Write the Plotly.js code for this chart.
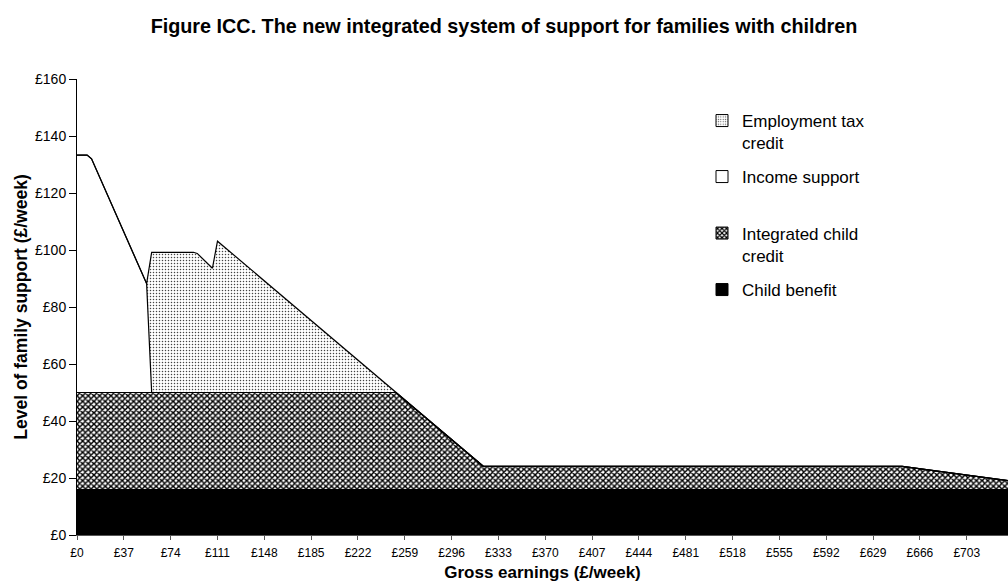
<!DOCTYPE html>
<html>
<head>
<meta charset="utf-8">
<script src="https://cdn.plot.ly/plotly-3.0.1.min.js"></script>
<style>html,body{margin:0;padding:0;background:#fff;}#chart{width:1008px;height:586px;}</style>
</head>
<body>
<div id="chart"></div>
<script>
// Gross earnings (£/week) breakpoints
const earnings = [0, 8, 11.5, 55, 59, 92, 95, 107, 111, 252, 321, 652, 740];
// Stacked components (£/week)
const childBenefit = [15.9, 15.9, 15.9, 15.9, 15.9, 15.9, 15.9, 15.9, 15.9, 15.9, 15.9, 15.9, 15.9];
const integratedChildCredit = [34.1, 34.1, 34.1, 34.1, 34.1, 34.1, 34.1, 34.1, 34.1, 34.1, 8.2, 8.2, 2.9];
const incomeSupport = [83.3, 83.3, 82.0, 38.2, 0, 0, 0, 0, 0, 0, 0, 0, 0];
const employmentTaxCredit = [0, 0, 0, 0, 49.2, 49.2, 48.8, 43.6, 53.1, 0, 0, 0, 0];

const xTickVals = [0, 37, 74, 111, 148, 185, 222, 259, 296, 333, 370, 407, 444, 481, 518, 555, 592, 629, 666, 703];
const xTickText = ["£0", "£37", "£74", "£111", "£148", "£185", "£222", "£259", "£296", "£333", "£370", "£407", "£444", "£481", "£518", "£555", "£592", "£629", "£666", "£703"];
const yTickVals = [0, 20, 40, 60, 80, 100, 120, 140, 160];
const yTickText = ["£0", "£20", "£40", "£60", "£80", "£100", "£120", "£140", "£160"];

const seriesNames = ["Child benefit", "Integrated child<br>credit", "Income support", "Employment tax<br>credit"];

const FONT = "Liberation Sans, Arial, sans-serif";
const W = 1008, H = 586;
const PLOT_TOP = 79, PLOT_BOTTOM = 535, PLOT_LEFT = 77, PLOT_RIGHT = 1008;

const patterns = [
  {shape: "", fgcolor: "#000000", bgcolor: "#000000"},
  {shape: "x", size: 4, solidity: 0.6, fgcolor: "#000000", bgcolor: "#ffffff"},
  {shape: "", fgcolor: "#ffffff", bgcolor: "#ffffff"},
  {shape: ".", size: 3, solidity: 0.2, fgcolor: "#444444", bgcolor: "#ffffff"}
];
const fills = ["#000000", "#ffffff", "#ffffff", "#ffffff"];
const values = [childBenefit, integratedChildCredit, incomeSupport, employmentTaxCredit];

const traces = [];
values.forEach((v, i) => {
  const t = {
    type: "scatter", mode: "lines", x: earnings, y: v,
    stackgroup: "one", fill: i === 0 ? "tozeroy" : "tonexty",
    fillcolor: fills[i],
    line: {color: "#000000", width: 1.2, shape: "linear"},
    showlegend: false, hoverinfo: "skip"
  };
  if (patterns[i].shape) t.fillpattern = patterns[i];
  traces.push(t);
});

// legend entries (one legend per entry so positions follow the reference)
const legendIds = ["legend4", "legend3", "legend2", "legend"];
values.forEach((v, i) => {
  traces.push({
    type: "bar", x: [null], y: [null], name: seriesNames[i],
    legend: legendIds[i], showlegend: true, hoverinfo: "skip",
    marker: {color: fills[i], line: {color: "#000000", width: 1},
             pattern: patterns[i].shape ? patterns[i] : {shape: ""}}
  });
});

function legendAt(yCenter) {
  return {
    x: (702 - PLOT_LEFT) / (PLOT_RIGHT - PLOT_LEFT), xref: "paper", xanchor: "left",
    y: (PLOT_BOTTOM - (yCenter - 18)) / (PLOT_BOTTOM - PLOT_TOP), yref: "paper", yanchor: "top",
    bgcolor: "rgba(0,0,0,0)", borderwidth: 0, valign: "top",
    font: {family: FONT, size: 17, color: "#000000"}
  };
}

const layout = {
  width: W, height: H,
  paper_bgcolor: "#ffffff", plot_bgcolor: "#ffffff",
  margin: {l: PLOT_LEFT, r: W - PLOT_RIGHT, t: PLOT_TOP, b: H - PLOT_BOTTOM, pad: 0, autoexpand: false},
  font: {family: FONT, color: "#000000"},
  title: {
    text: "<b>Figure ICC. The new integrated system of support for families with children</b>",
    x: 0.5, xref: "container", xanchor: "center",
    y: 1 - 26 / H, yref: "container", yanchor: "middle",
    font: {family: FONT, size: 19.8, color: "#000000"}
  },
  xaxis: {
    range: [0, 735.6], tickmode: "array", tickvals: xTickVals, ticktext: xTickText,
    ticks: "outside", ticklen: 4, tickcolor: "#555555", tickwidth: 1,
    ticklabelstandoff: 3,
    showline: true, linecolor: "#555555", linewidth: 1,
    showgrid: false, zeroline: false,
    tickfont: {family: FONT, size: 12, color: "#000000"},
    title: {text: "<b>Gross earnings (£/week)</b>", standoff: 6,
            font: {family: FONT, size: 17, color: "#000000"}}
  },
  yaxis: {
    range: [0, 160], tickmode: "array", tickvals: yTickVals, ticktext: yTickText,
    ticks: "outside", ticklen: 7, tickcolor: "#000000", tickwidth: 1,
    showline: true, linecolor: "#000000", linewidth: 1,
    showgrid: false, zeroline: false,
    tickfont: {family: FONT, size: 14, color: "#000000"},
    title: {text: "<b>Level of family support (£/week)</b>", standoff: 2,
            font: {family: FONT, size: 17.5, color: "#000000"}}
  },
  legend: legendAt(121),
  legend2: legendAt(177),
  legend3: legendAt(233.5),
  legend4: legendAt(290),
  showlegend: true
};

Plotly.newPlot("chart", traces, layout, {displayModeBar: false, staticPlot: true});
</script>
</body>
</html>
